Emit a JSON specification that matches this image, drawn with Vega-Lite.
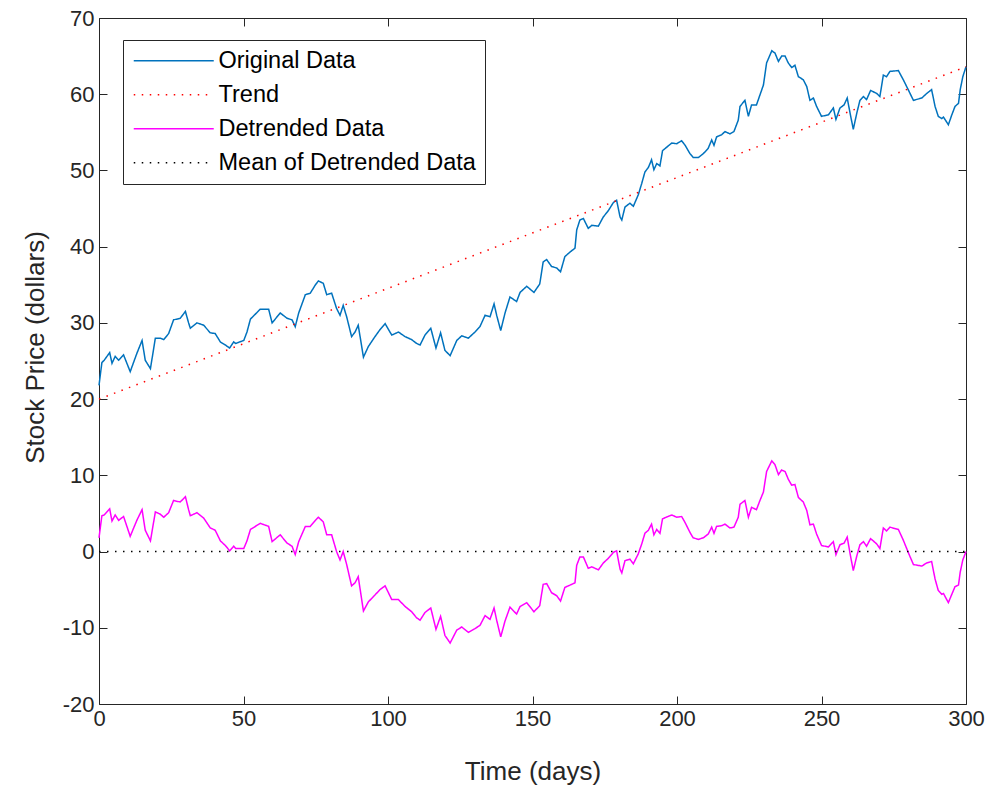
{
  "$schema": "https://vega.github.io/schema/vega-lite/v6.json",
  "width": 867,
  "height": 686,
  "autosize": {"type": "none"},
  "padding": {"left": 99, "top": 18, "right": 29, "bottom": 89},
  "background": "white",
  "config": {
    "view": {"stroke": "#262626", "strokeWidth": 1},
    "font": "Liberation Sans",
    "axis": {
      "domain": false,
      "grid": false,
      "tickColor": "#262626",
      "tickWidth": 1,
      "labelColor": "#262626",
      "titleColor": "#262626",
      "labelFont": "Liberation Sans",
      "titleFont": "Liberation Sans",
      "labelFontSize": 22,
      "titleFontSize": 26,
      "titleFontWeight": "normal",
      "labelFlush": false
    },
    "legend": {
      "orient": "none",
      "legendX": 24,
      "legendY": 22,
      "symbolType": "M-1,0H7",
      "symbolSize": 400,
      "symbolStrokeWidth": 1.5,
      "labelFont": "Liberation Sans",
      "labelFontSize": 23.5,
      "labelColor": "#000000",
      "labelOffset": 63,
      "labelLimit": 500,
      "padding": 9,
      "rowPadding": 9,
      "strokeColor": "#262626",
      "fillColor": "#ffffff"
    }
  },
  "datasets": {
    "orig": [
      {"t":0,"v":21.8},{"t":1,"v":24.8},{"t":1.8,"v":25.1},{"t":3.7,"v":26.1},{"t":4.5,"v":24.7},{"t":5.6,"v":25.6},{"t":6.8,"v":25.1},{"t":8.5,"v":25.8},{"t":10.8,"v":23.6},{"t":13.1,"v":26.0},{"t":14.9,"v":27.7},{"t":16,"v":25.1},{"t":17.8,"v":24.0},{"t":19.5,"v":28.0},{"t":21.2,"v":28.0},{"t":22.4,"v":27.8},{"t":24.1,"v":28.6},{"t":25.8,"v":30.4},{"t":28.1,"v":30.6},{"t":29.9,"v":31.5},{"t":31,"v":30.0},{"t":31.6,"v":29.3},{"t":33.9,"v":30.0},{"t":36.2,"v":29.7},{"t":38.5,"v":28.7},{"t":40.2,"v":28.6},{"t":42,"v":27.5},{"t":43.7,"v":27.1},{"t":45.2,"v":26.7},{"t":46.6,"v":27.5},{"t":47.3,"v":27.3},{"t":50.1,"v":27.7},{"t":51.2,"v":28.8},{"t":52.4,"v":30.5},{"t":55.8,"v":31.8},{"t":58.7,"v":31.8},{"t":59.9,"v":30.0},{"t":62.7,"v":31.3},{"t":65.1,"v":30.6},{"t":66.8,"v":30.4},{"t":67.9,"v":29.5},{"t":69.1,"v":31.3},{"t":71.4,"v":33.7},{"t":73.1,"v":33.9},{"t":74.9,"v":35.0},{"t":75.9,"v":35.5},{"t":77.6,"v":35.2},{"t":78.8,"v":33.7},{"t":80.5,"v":33.9},{"t":82.2,"v":31.9},{"t":83.4,"v":31.0},{"t":84.5,"v":32.3},{"t":85.7,"v":30.8},{"t":87.4,"v":28.2},{"t":88.6,"v":28.8},{"t":89.7,"v":29.7},{"t":91.5,"v":25.5},{"t":93.2,"v":26.9},{"t":95.5,"v":28.2},{"t":97.2,"v":29.1},{"t":99,"v":29.9},{"t":101.3,"v":28.4},{"t":103.6,"v":28.8},{"t":105.9,"v":28.2},{"t":108.2,"v":27.8},{"t":109.9,"v":27.3},{"t":111.1,"v":27.1},{"t":112.8,"v":28.4},{"t":114.8,"v":29.3},{"t":116.6,"v":26.7},{"t":118.2,"v":28.7},{"t":119.7,"v":26.4},{"t":121.5,"v":25.7},{"t":123.8,"v":27.7},{"t":125.5,"v":28.3},{"t":127.8,"v":28.0},{"t":130.1,"v":28.8},{"t":131.8,"v":29.5},{"t":133.6,"v":31.0},{"t":135.3,"v":30.8},{"t":136.7,"v":32.5},{"t":137.6,"v":31.0},{"t":139,"v":29.0},{"t":140.5,"v":31.3},{"t":142.2,"v":33.4},{"t":144.5,"v":32.8},{"t":145.7,"v":34.0},{"t":148,"v":34.8},{"t":150.5,"v":34.0},{"t":152.5,"v":35.1},{"t":153.7,"v":38.0},{"t":154.9,"v":38.3},{"t":156.6,"v":37.4},{"t":158.4,"v":37.2},{"t":159.7,"v":36.7},{"t":161.2,"v":38.7},{"t":163,"v":39.3},{"t":164.7,"v":39.8},{"t":165.3,"v":42.2},{"t":166.4,"v":43.5},{"t":167.6,"v":43.7},{"t":169.3,"v":42.4},{"t":170.5,"v":42.8},{"t":172.8,"v":42.7},{"t":174.5,"v":43.9},{"t":176.2,"v":44.7},{"t":178,"v":45.8},{"t":179.1,"v":46.1},{"t":180.3,"v":43.9},{"t":180.9,"v":43.5},{"t":182,"v":45.2},{"t":183.7,"v":45.7},{"t":184.9,"v":45.3},{"t":186.6,"v":46.8},{"t":187.8,"v":48.3},{"t":188.9,"v":49.8},{"t":190.1,"v":50.4},{"t":191.2,"v":51.4},{"t":192,"v":50.1},{"t":193,"v":50.9},{"t":194.1,"v":50.6},{"t":195,"v":52.6},{"t":198.2,"v":53.6},{"t":199.9,"v":53.5},{"t":201.6,"v":53.9},{"t":202.8,"v":53.3},{"t":204.5,"v":52.2},{"t":205.6,"v":51.7},{"t":207.4,"v":51.7},{"t":209.1,"v":52.2},{"t":210.8,"v":52.9},{"t":212,"v":54.0},{"t":212.8,"v":53.3},{"t":213.7,"v":54.4},{"t":215.5,"v":54.7},{"t":216.6,"v":55.1},{"t":218.3,"v":54.8},{"t":219.7,"v":55.1},{"t":221.2,"v":56.6},{"t":221.8,"v":58.4},{"t":223.5,"v":59.2},{"t":224.7,"v":57.1},{"t":225.8,"v":58.6},{"t":227.5,"v":58.6},{"t":228.7,"v":59.9},{"t":229.9,"v":61.2},{"t":231,"v":64.1},{"t":232.8,"v":65.7},{"t":233.9,"v":65.4},{"t":235.1,"v":64.3},{"t":236.2,"v":65.0},{"t":237.4,"v":65.0},{"t":238.5,"v":64.1},{"t":239.7,"v":63.5},{"t":240.8,"v":63.8},{"t":242,"v":62.3},{"t":243.7,"v":61.9},{"t":244.9,"v":61.0},{"t":246,"v":59.2},{"t":247.2,"v":59.5},{"t":248.3,"v":58.4},{"t":250,"v":57.1},{"t":252.4,"v":57.3},{"t":254.1,"v":58.2},{"t":255,"v":56.7},{"t":256.4,"v":58.2},{"t":257.8,"v":58.6},{"t":258.9,"v":59.5},{"t":259.9,"v":57.5},{"t":261,"v":55.4},{"t":262.2,"v":57.5},{"t":263.3,"v":59.2},{"t":264.5,"v":59.7},{"t":265.6,"v":59.3},{"t":267,"v":60.5},{"t":269.1,"v":60.1},{"t":270.2,"v":59.7},{"t":271.4,"v":62.5},{"t":272.5,"v":62.3},{"t":273.7,"v":63.0},{"t":276.6,"v":63.1},{"t":278.3,"v":61.9},{"t":280,"v":60.6},{"t":281.8,"v":59.2},{"t":284.7,"v":59.5},{"t":286.4,"v":60.1},{"t":288.1,"v":60.6},{"t":289.3,"v":58.4},{"t":290.4,"v":57.1},{"t":291.6,"v":56.8},{"t":292.2,"v":57.0},{"t":293.9,"v":56.0},{"t":295.1,"v":57.3},{"t":296.2,"v":58.4},{"t":297.4,"v":58.8},{"t":298,"v":60.6},{"t":298.9,"v":62.3},{"t":300,"v":63.6}
    ],
    "detr": [
      {"t":0,"v":1.8},{"t":1,"v":4.7},{"t":1.8,"v":4.8},{"t":3.7,"v":5.6},{"t":4.5,"v":4.0},{"t":5.6,"v":4.8},{"t":6.8,"v":4.1},{"t":8.5,"v":4.6},{"t":10.8,"v":2.0},{"t":13.1,"v":4.1},{"t":14.9,"v":5.5},{"t":16,"v":2.8},{"t":17.8,"v":1.4},{"t":19.5,"v":5.2},{"t":21.2,"v":4.9},{"t":22.4,"v":4.5},{"t":24.1,"v":5.1},{"t":25.8,"v":6.7},{"t":28.1,"v":6.5},{"t":29.9,"v":7.2},{"t":31,"v":5.5},{"t":31.6,"v":4.7},{"t":33.9,"v":5.1},{"t":36.2,"v":4.4},{"t":38.5,"v":3.1},{"t":40.2,"v":2.8},{"t":42,"v":1.4},{"t":43.7,"v":0.8},{"t":45.2,"v":0.1},{"t":46.6,"v":0.7},{"t":47.3,"v":0.4},{"t":50.1,"v":0.4},{"t":51.2,"v":1.4},{"t":52.4,"v":2.9},{"t":55.8,"v":3.7},{"t":58.7,"v":3.3},{"t":59.9,"v":1.3},{"t":62.7,"v":2.2},{"t":65.1,"v":1.1},{"t":66.8,"v":0.7},{"t":67.9,"v":-0.4},{"t":69.1,"v":1.3},{"t":71.4,"v":3.3},{"t":73.1,"v":3.3},{"t":74.9,"v":4.1},{"t":75.9,"v":4.5},{"t":77.6,"v":3.9},{"t":78.8,"v":2.2},{"t":80.5,"v":2.2},{"t":82.2,"v":0.0},{"t":83.4,"v":-1.1},{"t":84.5,"v":0.0},{"t":85.7,"v":-1.7},{"t":87.4,"v":-4.5},{"t":88.6,"v":-4.1},{"t":89.7,"v":-3.3},{"t":91.5,"v":-7.8},{"t":93.2,"v":-6.6},{"t":95.5,"v":-5.7},{"t":97.2,"v":-5.0},{"t":99,"v":-4.5},{"t":101.3,"v":-6.3},{"t":103.6,"v":-6.3},{"t":105.9,"v":-7.2},{"t":108.2,"v":-7.9},{"t":109.9,"v":-8.7},{"t":111.1,"v":-9.0},{"t":112.8,"v":-8.0},{"t":114.8,"v":-7.4},{"t":116.6,"v":-10.2},{"t":118.2,"v":-8.5},{"t":119.7,"v":-11.0},{"t":121.5,"v":-12.0},{"t":123.8,"v":-10.3},{"t":125.5,"v":-9.9},{"t":127.8,"v":-10.6},{"t":130.1,"v":-10.1},{"t":131.8,"v":-9.7},{"t":133.6,"v":-8.4},{"t":135.3,"v":-8.9},{"t":136.7,"v":-7.4},{"t":137.6,"v":-9.0},{"t":139,"v":-11.2},{"t":140.5,"v":-9.1},{"t":142.2,"v":-7.3},{"t":144.5,"v":-8.2},{"t":145.7,"v":-7.2},{"t":148,"v":-6.7},{"t":150.5,"v":-7.9},{"t":152.5,"v":-7.1},{"t":153.7,"v":-4.3},{"t":154.9,"v":-4.2},{"t":156.6,"v":-5.4},{"t":158.4,"v":-5.8},{"t":159.7,"v":-6.5},{"t":161.2,"v":-4.7},{"t":163,"v":-4.4},{"t":164.7,"v":-4.1},{"t":165.3,"v":-1.8},{"t":166.4,"v":-0.7},{"t":167.6,"v":-0.7},{"t":169.3,"v":-2.2},{"t":170.5,"v":-2.0},{"t":172.8,"v":-2.4},{"t":174.5,"v":-1.5},{"t":176.2,"v":-0.9},{"t":178,"v":-0.1},{"t":179.1,"v":0.1},{"t":180.3,"v":-2.3},{"t":180.9,"v":-2.8},{"t":182,"v":-1.2},{"t":183.7,"v":-1.0},{"t":184.9,"v":-1.6},{"t":186.6,"v":-0.3},{"t":187.8,"v":1.0},{"t":188.9,"v":2.4},{"t":190.1,"v":2.8},{"t":191.2,"v":3.6},{"t":192,"v":2.2},{"t":193,"v":2.9},{"t":194.1,"v":2.4},{"t":195,"v":4.3},{"t":198.2,"v":4.8},{"t":199.9,"v":4.5},{"t":201.6,"v":4.6},{"t":202.8,"v":3.8},{"t":204.5,"v":2.5},{"t":205.6,"v":1.8},{"t":207.4,"v":1.6},{"t":209.1,"v":1.8},{"t":210.8,"v":2.3},{"t":212,"v":3.2},{"t":212.8,"v":2.4},{"t":213.7,"v":3.3},{"t":215.5,"v":3.4},{"t":216.6,"v":3.6},{"t":218.3,"v":3.1},{"t":219.7,"v":3.2},{"t":221.2,"v":4.5},{"t":221.8,"v":6.2},{"t":223.5,"v":6.7},{"t":224.7,"v":4.5},{"t":225.8,"v":5.8},{"t":227.5,"v":5.5},{"t":228.7,"v":6.7},{"t":229.9,"v":7.8},{"t":231,"v":10.5},{"t":232.8,"v":11.9},{"t":233.9,"v":11.4},{"t":235.1,"v":10.1},{"t":236.2,"v":10.7},{"t":237.4,"v":10.5},{"t":238.5,"v":9.5},{"t":239.7,"v":8.7},{"t":240.8,"v":8.8},{"t":242,"v":7.1},{"t":243.7,"v":6.5},{"t":244.9,"v":5.4},{"t":246,"v":3.5},{"t":247.2,"v":3.6},{"t":248.3,"v":2.3},{"t":250,"v":0.8},{"t":252.4,"v":0.6},{"t":254.1,"v":1.3},{"t":255,"v":-0.4},{"t":256.4,"v":0.9},{"t":257.8,"v":1.1},{"t":258.9,"v":1.9},{"t":259.9,"v":-0.3},{"t":261,"v":-2.5},{"t":262.2,"v":-0.6},{"t":263.3,"v":0.9},{"t":264.5,"v":1.3},{"t":265.6,"v":0.7},{"t":267,"v":1.7},{"t":269.1,"v":1.0},{"t":270.2,"v":0.4},{"t":271.4,"v":3.1},{"t":272.5,"v":2.7},{"t":273.7,"v":3.2},{"t":276.6,"v":2.9},{"t":278.3,"v":1.5},{"t":280,"v":-0.1},{"t":281.8,"v":-1.7},{"t":284.7,"v":-1.9},{"t":286.4,"v":-1.5},{"t":288.1,"v":-1.3},{"t":289.3,"v":-3.6},{"t":290.4,"v":-5.1},{"t":291.6,"v":-5.6},{"t":292.2,"v":-5.5},{"t":293.9,"v":-6.7},{"t":295.1,"v":-5.6},{"t":296.2,"v":-4.6},{"t":297.4,"v":-4.4},{"t":298,"v":-2.7},{"t":298.9,"v":-1.1},{"t":300,"v":0.0}
    ],
    "trend": [{"t":0,"v":20.0},{"t":300,"v":63.6}],
    "mean": [{"t":0,"v":0},{"t":300,"v":0}]
  },
  "layer": [
    {
      "data": {"name": "orig"},
      "mark": {"type": "line", "strokeWidth": 1.5},
      "encoding": {
        "x": {"field": "t", "type": "quantitative", "scale": {"domain": [0, 300], "nice": false},
          "axis": {"orient": "bottom", "values": [0,50,100,150,200,250,300], "tickSize": -8, "labelPadding": 12, "labelExpr": "'' + datum.value", "title": "Time (days)", "titlePadding": 29}},
        "y": {"field": "v", "type": "quantitative", "scale": {"domain": [-20, 70], "nice": false, "zero": false},
          "axis": {"orient": "left", "values": [-20,-10,0,10,20,30,40,50,60,70], "tickSize": -8, "labelPadding": 13, "labelExpr": "'' + datum.value", "title": "Stock Price (dollars)", "titlePadding": 14, "titleY": 329}},
        "color": {"datum": "Original Data", "type": "nominal",
          "scale": {"domain": ["Original Data", "Trend", "Detrended Data", "Mean of Detrended Data"], "range": ["#0072BD", "#FF0000", "#FF00FF", "#000000"]},
          "legend": {"title": null}},
        "strokeDash": {"datum": "Original Data", "type": "nominal",
          "scale": {"domain": ["Original Data", "Trend", "Detrended Data", "Mean of Detrended Data"], "range": [[1, 0], [1.5, 6.5], [1, 0], [1.5, 6.5]]},
          "legend": {"title": null}}
      }
    },
    {
      "data": {"name": "trend"},
      "mark": {"type": "line", "strokeWidth": 1.5},
      "encoding": {
        "x": {"field": "t", "type": "quantitative",
          "axis": {"orient": "top", "values": [0,50,100,150,200,250,300], "tickSize": -8, "labels": false, "title": null}},
        "y": {"field": "v", "type": "quantitative",
          "axis": {"orient": "right", "values": [-20,-10,0,10,20,30,40,50,60,70], "tickSize": -8, "labels": false, "title": null}},
        "color": {"datum": "Trend", "type": "nominal"},
        "strokeDash": {"datum": "Trend", "type": "nominal"}
      }
    },
    {
      "data": {"name": "detr"},
      "mark": {"type": "line", "strokeWidth": 1.5},
      "encoding": {
        "x": {"field": "t", "type": "quantitative", "axis": null},
        "y": {"field": "v", "type": "quantitative", "axis": null},
        "color": {"datum": "Detrended Data", "type": "nominal"},
        "strokeDash": {"datum": "Detrended Data", "type": "nominal"}
      }
    },
    {
      "data": {"name": "mean"},
      "mark": {"type": "line", "strokeWidth": 1.5},
      "encoding": {
        "x": {"field": "t", "type": "quantitative", "axis": null},
        "y": {"field": "v", "type": "quantitative", "axis": null},
        "color": {"datum": "Mean of Detrended Data", "type": "nominal"},
        "strokeDash": {"datum": "Mean of Detrended Data", "type": "nominal"}
      }
    }
  ],
  "resolve": {"axis": {"x": "independent", "y": "independent"}}
}
